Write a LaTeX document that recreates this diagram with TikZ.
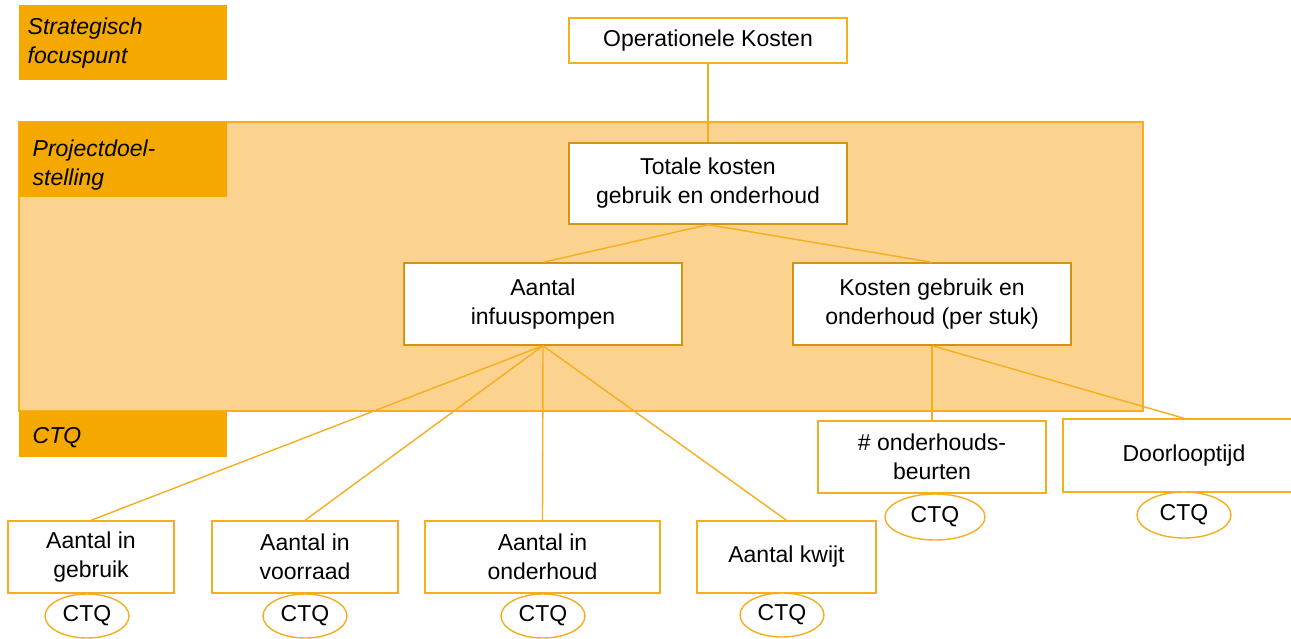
\documentclass[tikz,border=0pt]{standalone}
\usepackage{fontspec}
\setmainfont{Liberation Sans}
\usetikzlibrary{shapes.geometric}
\definecolor{darkorange}{HTML}{F5A800}
\definecolor{lightorange}{HTML}{FBD38F}
\definecolor{lineorange}{HTML}{F5AE1E}
\definecolor{innerborder}{HTML}{D39410}

\begin{document}
\begin{tikzpicture}[x=1pt, y=-1pt, line width=1.4pt,
    box/.style={draw=lineorange, fill=white, rectangle, align=center, inner sep=0pt,
      minimum height=72pt, font=\fontsize{23}{29}\selectfont},
    innerbox/.style={box, draw=innerborder, minimum width=278pt, minimum height=82pt},
    ctq/.style={draw=lineorange, fill=white, ellipse, inner sep=0pt,
      minimum width=84pt, minimum height=44pt, font=\fontsize{23}{29}\selectfont},
    tag/.style={align=left, anchor=west, inner sep=0pt, font=\fontsize{23}{29}\selectfont\itshape},
    link/.style={draw=lineorange}]
    \useasboundingbox (0,0) rectangle (1291,638);
    \def\lw{19}
    \def\rw{227}
    % Project area
    \fill[lightorange, draw=lineorange] (\lw,122) rectangle (1143,411);
    % Level labels
    \fill[darkorange] (\lw,5) rectangle (\rw,80);
    \fill[darkorange] (\lw,122) rectangle (\rw,197);
    \fill[darkorange] (\lw,411) rectangle (\rw,457);
    \node[tag] (strat) at (27,43) {Strategisch\\focuspunt};
    \node[tag] (proj) at (32,165) {Projectdoel-\\stelling};
    \node[tag] (ctqlabel) at (32,438) {CTQ};

    % Tree
    \node[box, minimum width=278pt, minimum height=45pt] (opk) at (708,40.5) {Operationele Kosten};
    \node[innerbox, minimum height=81pt] (tot) at (708,183.5) {Totale kosten\\gebruik en onderhoud};
    \node[innerbox] (pomp) at (543,304) {Aantal\\infuuspompen};
    \node[innerbox] (kost) at (932,304) {Kosten gebruik en\\onderhoud (per stuk)};

    \node[box, minimum width=166pt] (gebr) at (91,557) {Aantal in\\gebruik};
    \node[box, minimum width=186pt] (voor) at (305,557) {Aantal in\\voorraad};
    \node[box, minimum width=235pt] (ondh) at (542.5,557) {Aantal in\\onderhoud};
    \node[box, minimum width=179pt] (kwijt) at (786.5,557) {Aantal kwijt};
    \node[box, minimum width=228pt] (beurt) at (932,457) {\# onderhouds-\\beurten};
    \node[box, minimum width=242pt, minimum height=73pt] (door) at (1184,455.5) {Doorlooptijd};

    % Connectors
    \draw[link] (opk.south) -- (tot.north);
    \draw[link] (tot.south) -- (pomp.north);
    \draw[link] (tot.south) -- (kost.north);
    \foreach \leaf in {gebr,voor,ondh,kwijt}
      \draw[link] (pomp.south) -- (\leaf.north);
    \draw[link] (kost.south) -- (beurt.north);
    \draw[link] (kost.south) -- (door.north);

    % CTQ markers
    \node[ctq] (c1) at (87,616) {CTQ};
    \node[ctq] (c2) at (305,616) {CTQ};
    \node[ctq] (c3) at (543,616) {CTQ};
    \node[ctq] (c4) at (782,615) {CTQ};
    \node[ctq, minimum width=100pt, minimum height=46pt] (c5) at (935,517) {CTQ};
    \node[ctq, minimum width=94pt, minimum height=46pt] (c6) at (1184,515) {CTQ};
  \end{tikzpicture}
\end{document}
